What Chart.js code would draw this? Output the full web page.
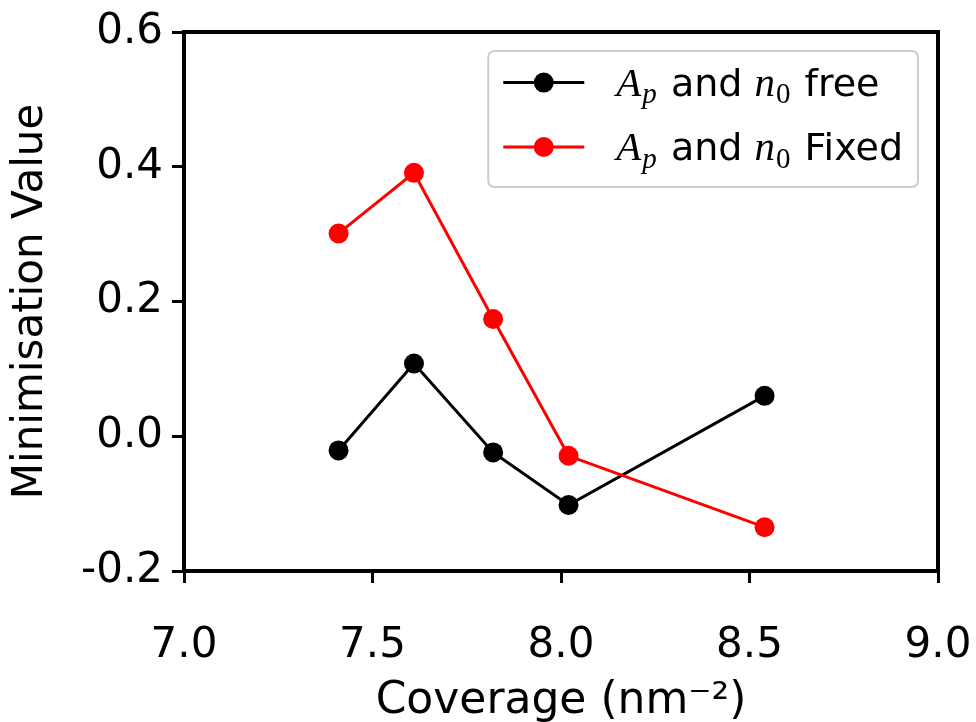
<!DOCTYPE html>
<html>
<head>
<meta charset="utf-8">
<script src="https://cdn.jsdelivr.net/npm/chart.js@4/dist/chart.umd.min.js"></script>
<style>
  html, body { margin: 0; padding: 0; background: #fff; }
</style>
</head>
<body>
<canvas id="min_chart" width="976" height="722"></canvas>
<script>
const coverage = [7.41, 7.61, 7.82, 8.02, 8.54];
const freeValues = [-0.021, 0.108, -0.024, -0.102, 0.06];
const fixedValues = [0.301, 0.391, 0.174, -0.029, -0.135];
const seriesNames = ["$A_p$ and $n_0$ free", "$A_p$ and $n_0$ Fixed"];
const seriesColors = ["#000000", "#ff0000"];
const xTicks = [7.0, 7.5, 8.0, 8.5, 9.0];
const yTicks = [-0.2, 0.0, 0.2, 0.4, 0.6];

const SANS = '"DejaVu Sans"';
const SERIF = '"Liberation Serif"';

// "$A_p$" -> plain "Ap" for the dataset label
const plainName = (name) => name.replace(/\$/g, "").replace(/_/g, "");

// tiny mathtext: text between $...$ is italic serif, "_x" is a subscript
const drawMathText = (ctx, text, x, y, size, measureOnly) => {
  let cx = x;
  const mathSize = Math.round(size * 1.08);
  text.split("$").forEach((part, i) => {
    if (i % 2 === 0) {
      ctx.font = `${size}px ${SANS}`;
      if (!measureOnly) ctx.fillText(part, cx, y);
      cx += ctx.measureText(part).width;
      return;
    }
    const [base, sub] = part.split("_");
    ctx.font = `italic ${mathSize}px ${SERIF}`;
    if (!measureOnly) ctx.fillText(base, cx, y);
    cx += ctx.measureText(base).width;
    if (sub) {
      const subSize = Math.round(mathSize * 0.7);
      ctx.font = /\d/.test(sub) ? `${subSize}px ${SERIF}` : `italic ${subSize}px ${SERIF}`;
      if (!measureOnly) ctx.fillText(sub, cx + 1, y + size * 0.2);
      cx += ctx.measureText(sub).width + 3;
    }
  });
  return cx - x;
};

// top and right spines
const framePlugin = {
  id: "frame",
  afterDatasetsDraw(chart) {
    const { ctx, chartArea: a } = chart;
    ctx.save();
    ctx.strokeStyle = "#000";
    ctx.lineWidth = 4;
    ctx.lineCap = "square";
    ctx.beginPath();
    ctx.moveTo(a.left, a.top);
    ctx.lineTo(a.right, a.top);
    ctx.lineTo(a.right, a.bottom);
    ctx.stroke();
    ctx.restore();
  },
};

const legendPlugin = {
  id: "mathLegend",
  afterDraw(chart) {
    const { ctx, chartArea: a } = chart;
    const size = 38;
    const pad = 15;
    const lineLen = 81;
    const gap = 32;
    const rowH = 64.4;

    ctx.save();
    const textW = Math.max(...seriesNames.map((n) => drawMathText(ctx, n, 0, 0, size, true)));
    const boxW = pad + lineLen + gap + textW + pad;
    const boxH = 136;
    const right = a.right - 20;
    const left = right - boxW;
    const top = a.top + 19;

    ctx.fillStyle = "rgba(255,255,255,0.8)";
    ctx.strokeStyle = "#cccccc";
    ctx.lineWidth = 2;
    ctx.beginPath();
    ctx.roundRect(left, top, boxW, boxH, 6);
    ctx.fill();
    ctx.stroke();

    seriesNames.forEach((name, i) => {
      const cy = top + 31.6 + i * rowH;
      const x0 = left + pad;
      ctx.strokeStyle = seriesColors[i];
      ctx.lineWidth = 3;
      ctx.beginPath();
      ctx.moveTo(x0, cy);
      ctx.lineTo(x0 + lineLen, cy);
      ctx.stroke();
      ctx.fillStyle = seriesColors[i];
      ctx.beginPath();
      ctx.arc(x0 + lineLen / 2, cy, 10, 0, Math.PI * 2);
      ctx.fill();

      ctx.fillStyle = "#000";
      ctx.textBaseline = "alphabetic";
      ctx.textAlign = "left";
      drawMathText(ctx, name, x0 + lineLen + gap, cy + 13, size, false);
    });
    ctx.restore();
  },
};

const makeSeries = (values, i, order) => ({
  label: plainName(seriesNames[i]),
  data: coverage.map((x, k) => ({ x: x, y: values[k] })),
  borderColor: seriesColors[i],
  backgroundColor: seriesColors[i],
  borderWidth: 3,
  pointRadius: 10,
  pointHoverRadius: 10,
  pointBorderWidth: 0,
  tension: 0,
  order: order,
});

const axisGrid = {
  drawOnChartArea: false,
  drawTicks: true,
  tickLength: 12,
  tickWidth: 3,
  tickColor: "#000",
};

new Chart(document.getElementById("min_chart"), {
  type: "line",
  data: {
    datasets: [makeSeries(freeValues, 0, 1), makeSeries(fixedValues, 1, 0)],
  },
  options: {
    responsive: false,
    animation: false,
    layout: { padding: { top: 32, right: 38, left: 0, bottom: 0 } },
    plugins: {
      legend: { display: false },
      tooltip: { enabled: false },
    },
    scales: {
      x: {
        type: "linear",
        min: 7,
        max: 9,
        afterBuildTicks: (axis) => {
          axis.ticks = xTicks.map((v) => ({ value: v }));
        },
        afterFit: (scale) => {
          scale.height = 151;
          scale.paddingLeft = 0;
          scale.paddingRight = 0;
        },
        ticks: {
          color: "#000",
          font: { family: "DejaVu Sans", size: 42, lineHeight: 1 },
          padding: 42,
          maxRotation: 0,
          autoSkip: false,
          callback: (v) => Number(v).toFixed(1),
        },
        grid: axisGrid,
        border: { display: true, color: "#000", width: 4 },
        title: {
          display: true,
          text: "Coverage (nm⁻²)",
          color: "#000",
          font: { family: "DejaVu Sans", size: 44, lineHeight: 1 },
          padding: { top: 0, bottom: -2 },
        },
      },
      y: {
        min: -0.2,
        max: 0.6,
        afterBuildTicks: (axis) => {
          axis.ticks = yTicks.map((v) => ({ value: v }));
        },
        afterFit: (scale) => {
          scale.width = 184;
          scale.paddingTop = 0;
          scale.paddingBottom = 0;
        },
        ticks: {
          color: "#000",
          font: { family: "DejaVu Sans", size: 42, lineHeight: 1 },
          padding: 9,
          callback: (v) => Number(v).toFixed(1),
        },
        grid: axisGrid,
        border: { display: true, color: "#000", width: 4 },
        title: {
          display: true,
          text: "Minimisation Value",
          color: "#000",
          font: { family: "DejaVu Sans", size: 42, lineHeight: 1 },
          padding: { top: 10, bottom: 0 },
        },
      },
    },
  },
  plugins: [framePlugin, legendPlugin],
});
</script>
</body>
</html>
